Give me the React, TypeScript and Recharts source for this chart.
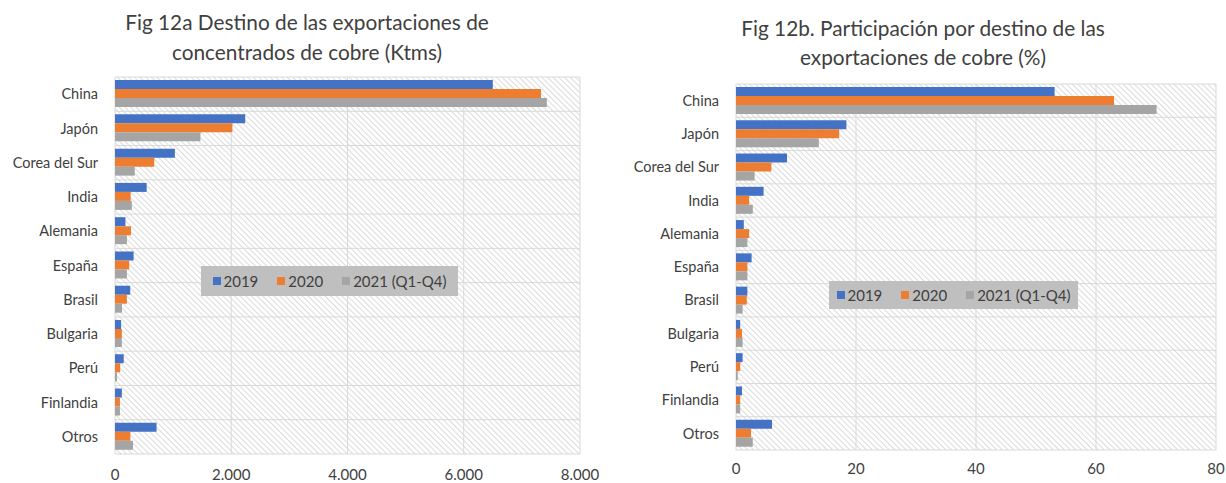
// ===========================================================================
// Fig 12a / 12b : destino de las exportaciones de cobre (barras horizontales).
// ===========================================================================

import {
  BarChart,
  Bar,
  XAxis,
  YAxis,
  CartesianGrid,
  Legend,
} from 'recharts';

// ---------------------------------------------------------------------------
// Datos
// ---------------------------------------------------------------------------

const categorias = [
  'China',
  'Japón',
  'Corea del Sur',
  'India',
  'Alemania',
  'España',
  'Brasil',
  'Bulgaria',
  'Perú',
  'Finlandia',
  'Otros',
];

const series = ['2019', '2020', '2021 (Q1-Q4)'];

// Fig 12a : miles de toneladas métricas (Ktms)
const ktms2019 = [6500, 2240, 1030, 545, 180, 320, 262, 105, 150, 118, 715];
const ktms2020 = [7330, 2020, 675, 270, 275, 245, 205, 118, 90, 85, 265];
const ktms2021 = [7430, 1470, 340, 290, 205, 205, 120, 118, 35, 85, 310];
const ticksKtms = [0, 2000, 4000, 6000, 8000];

// Fig 12b : participación (%)
const pct2019 = [53.1, 18.4, 8.5, 4.6, 1.3, 2.6, 1.9, 0.7, 1.1, 1.0, 6.0];
const pct2020 = [63.0, 17.2, 5.9, 2.2, 2.2, 1.9, 1.8, 1.0, 0.7, 0.7, 2.5];
const pct2021 = [70.1, 13.8, 3.1, 2.8, 1.9, 1.9, 1.1, 1.1, 0.3, 0.7, 2.8];
const ticksPct = [0, 20, 40, 60, 80];

const COLORES = ['#4472C4', '#ED7D31', '#A5A5A5'];
const TEXTO = '#404040';
const GRID = '#d9d9d9';
const FUENTE = 'Lato, "Open Sans", sans-serif';

const dataKtms = categorias.map((name, i) => ({
  name,
  a: ktms2019[i],
  b: ktms2020[i],
  c: ktms2021[i],
}));

const dataPct = categorias.map((name, i) => ({
  name,
  a: pct2019[i],
  b: pct2020[i],
  c: pct2021[i],
}));

const fmtMiles = (v: number) =>
  v.toString().replace(/\B(?=(\d{3})+(?!\d))/g, '.');

// Líneas horizontales en los bordes de cada categoría (estilo Excel).
const bordesCategorias = ({ offset }: any) => {
  const n = categorias.length;
  const out: number[] = [];
  for (let i = 0; i <= n; i++) out.push(offset.top + (i * offset.height) / n);
  return out;
};

// Leyenda gris con cuadraditos
function LeyendaCaja(props: any) {
  const { payload } = props;
  return (
    <div
      style={{
        background: '#bfbfbf',
        height: '100%',
        display: 'flex',
        alignItems: 'center',
        justifyContent: 'center',
        fontFamily: FUENTE,
        fontSize: 15,
        color: TEXTO,
      }}
    >
      {(payload || []).map((p: any, i: number) => (
        <span
          key={i}
          style={{ display: 'flex', alignItems: 'center', marginLeft: i === 0 ? 0 : 19 }}
        >
          <span
            style={{ width: 8, height: 8, background: p.color, marginRight: 3, display: 'inline-block' }}
          />
          {p.value}
        </span>
      ))}
    </div>
  );
}

// ---------------------------------------------------------------------------
// Gráfico genérico
// ---------------------------------------------------------------------------

function GraficoBarras({
  data,
  ticks,
  width,
  height,
  top,
  right,
  xHeight,
  yWidth,
  xTickMargin,
  legendBox,
  patternId,
  tickFmt,
}: {
  data: any[];
  ticks: number[];
  width: number;
  height: number;
  top: number;
  right: number;
  xHeight: number;
  yWidth: number;
  xTickMargin: number;
  legendBox: { left: number; top: number; width: number; height: number };
  patternId: string;
  tickFmt: (v: number) => string;
}) {
  return (
    <BarChart
      width={width}
      height={height}
      data={data}
      layout="vertical"
      margin={{ top, right, bottom: 0, left: 0 }}
      barCategoryGap="9%"
      barGap={0}
    >
      <defs>
        <pattern
          id={patternId}
          width={4}
          height={4}
          patternUnits="userSpaceOnUse"
          patternTransform="rotate(-45)"
        >
          <rect width={4} height={4} fill="#ffffff" />
          <line x1={0} y1={0} x2={0} y2={4} stroke="#c8c8c8" strokeWidth={1.3} />
        </pattern>
      </defs>
      <CartesianGrid
        stroke={GRID}
        fill={`url(#${patternId})`}
        horizontalCoordinatesGenerator={bordesCategorias}
      />
      <XAxis
        type="number"
        domain={[ticks[0], ticks[ticks.length - 1]]}
        ticks={ticks}
        tickFormatter={tickFmt}
        tick={{ fontSize: 15, fill: TEXTO, fontFamily: FUENTE }}
        tickLine={false}
        axisLine={false}
        tickSize={0}
        tickMargin={xTickMargin}
        height={xHeight}
      />
      <YAxis
        type="category"
        dataKey="name"
        width={yWidth}
        interval={0}
        tick={{ fontSize: 14.5, fill: TEXTO, fontFamily: FUENTE }}
        tickLine={false}
        axisLine={false}
        tickSize={0}
        tickMargin={17}
      />
      <Legend
        layout="horizontal"
        align="center"
        verticalAlign="middle"
        wrapperStyle={{ ...legendBox }}
        content={<LeyendaCaja />}
      />
      <Bar dataKey="a" name={series[0]} fill={COLORES[0]} isAnimationActive={false} />
      <Bar dataKey="b" name={series[1]} fill={COLORES[1]} isAnimationActive={false} />
      <Bar dataKey="c" name={series[2]} fill={COLORES[2]} isAnimationActive={false} />
    </BarChart>
  );
}

const estiloTitulo = {
  position: 'absolute' as const,
  textAlign: 'center' as const,
  fontFamily: FUENTE,
  fontSize: 20.8,
  color: TEXTO,
  lineHeight: '30px',
  width: 614,
};

// ---------------------------------------------------------------------------
// App
// ---------------------------------------------------------------------------

export default function App() {
  return (
    <div
      style={{
        position: 'absolute',
        left: 0,
        top: 0,
        width: 1226,
        height: 483,
        background: '#ffffff',
        fontFamily: FUENTE,
        overflow: 'hidden',
      }}
    >
      <div style={{ position: 'absolute', left: 0, top: 0 }}>
        <GraficoBarras
          data={dataKtms}
          ticks={ticksKtms}
          width={614}
          height={483}
          top={77}
          right={34}
          xHeight={29}
          yWidth={115}
          xTickMargin={15}
          legendBox={{ left: 201, top: 266, width: 257, height: 30 }}
          patternId="hatchA"
          tickFmt={fmtMiles}
        />
      </div>
      <div style={{ ...estiloTitulo, left: 0, top: 7 }}>
        Fig 12a Destino de las exportaciones de
        <br />
        concentrados de cobre (Ktms)
      </div>

      <div style={{ position: 'absolute', left: 614, top: 0 }}>
        <GraficoBarras
          data={dataPct}
          ticks={ticksPct}
          width={612}
          height={483}
          top={84}
          right={10}
          xHeight={33}
          yWidth={122}
          xTickMargin={13}
          legendBox={{ left: 215, top: 281, width: 249, height: 28 }}
          patternId="hatchB"
          tickFmt={(v) => String(v)}
        />
      </div>
      <div style={{ ...estiloTitulo, left: 616, top: 13, lineHeight: '29px' }}>
        Fig 12b. Participación por destino de las
        <br />
        exportaciones de cobre (%)
      </div>
    </div>
  );
}
